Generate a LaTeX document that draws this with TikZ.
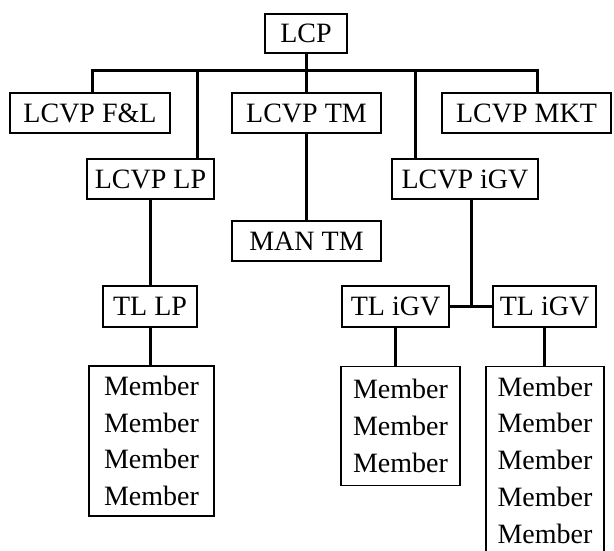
\documentclass[tikz,border=0pt]{standalone}
\usepackage{fontspec}
\setmainfont{Liberation Serif}
\usetikzlibrary{calc}
\begin{document}
\begin{tikzpicture}[x=1pt,y=-1pt,
  box/.style={draw, line width=1.1pt, inner sep=0pt, align=center,
    font=\fontsize{28}{36.7}\selectfont},
  conn/.style={line width=3pt}]
\useasboundingbox (0,0) rectangle (614,550);
\clip (0,0) rectangle (614,550);
% level 0
\node[box, minimum width=82pt, minimum height=39pt] (lcp) at (306,33.5) {LCP};
% level 1
\node[box, minimum width=160pt, minimum height=40pt] (fl)  at (90,113)    {LCVP F\&L};
\node[box, minimum width=149pt, minimum height=40pt] (tm)  at (306.5,113) {LCVP TM};
\node[box, minimum width=169pt, minimum height=40pt] (mkt) at (526.5,113) {LCVP MKT};
\node[box, minimum width=127pt, minimum height=40pt] (lp)  at (150.5,179) {LCVP LP};
\node[box, minimum width=146pt, minimum height=40pt] (igv) at (465,179)   {LCVP iGV};
% level 2
\node[box, minimum width=149pt, minimum height=40pt] (man) at (306.5,241) {MAN TM};
\node[box, minimum width=94pt,  minimum height=41pt] (tllp) at (150,306.5) {TL LP};
\node[box, minimum width=107pt, minimum height=41pt] (tl1) at (395.5,306.5) {TL iGV};
\node[box, minimum width=103pt, minimum height=41pt] (tl2) at (544.5,306.5) {TL iGV};
% members
\node[box, minimum width=125pt, minimum height=150pt] (m1) at (151.5,441)
  {Member\\Member\\Member\\Member};
\node[box, anchor=north, minimum width=119pt, minimum height=119pt] (m2) at (400.5,366)
  {Member\\Member\\Member};
\node[box, anchor=north, minimum width=118pt, minimum height=187pt] (m3) at (545,366)
  {Member\\Member\\Member\\Member\\Member};
% connectors
\coordinate (bar) at (306,70);
\coordinate (flstem) at ($(fl.north)+(2,0)$);
\coordinate (mktstem) at ($(mkt.north)+(10.5,0)$);
\coordinate (lpstem) at ($(lp.north)+(46.5,0)$);
\coordinate (igvstem) at ($(igv.north)+(-50,0)$);
\draw[conn] (lcp.south) -- (bar);
\draw[conn] (flstem) -- (flstem |- bar) -- (mktstem |- bar) -- (mktstem);
\draw[conn] (lpstem |- bar) -- (lpstem);
\draw[conn] (tm.north |- bar) -- (tm.north);
\draw[conn] (igvstem |- bar) -- (igvstem);
\draw[conn] (tm.south) -- (man.north);
\draw[conn] (lp.south) -- (lp.south |- tllp.north);
\draw[conn] (tllp.south) -- (tllp.south |- m1.north);
\coordinate (j) at ($(tl1.east)!0.5!(tl2.west)$);
\draw[conn] (tl1.east) -- (tl2.west);
\draw[conn] (igv.south -| j) -- (j);
\draw[conn] (tl1.south) -- (tl1.south |- m2.north);
\draw[conn] (tl2.south) -- (tl2.south |- m3.north);
\end{tikzpicture}
\end{document}
